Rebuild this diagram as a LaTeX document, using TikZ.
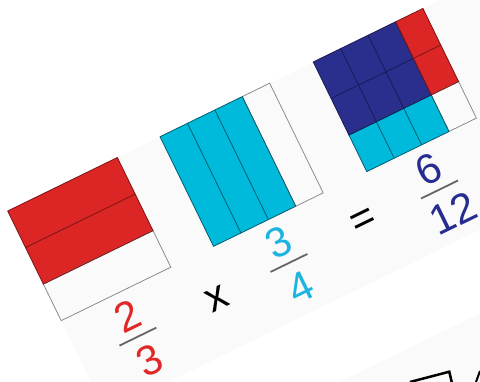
\documentclass[tikz,border=0pt]{standalone}
\usepackage{fontspec}
\setmainfont{Liberation Sans}
\usepackage{tikz}

\definecolor{fracred}{HTML}{DC2626}
\definecolor{fraccyan}{HTML}{00BADC}
\definecolor{fracnavy}{HTML}{2A2E8C}
\definecolor{digred}{HTML}{E12828}
\definecolor{digcyan}{HTML}{1CB4E0}
\definecolor{dignavy}{HTML}{262C90}
\definecolor{panelgray}{HTML}{FAFAFA}

\tikzset{
  digit/.style={inner sep=0pt, font=\fontsize{42}{42}\selectfont},
  fracbar/.style={draw=black!60, line width=1.8pt},
  redline/.style={draw=fracred!55!black, line width=0.8pt},
  cyanline/.style={draw=fraccyan!50!black, line width=0.8pt},
  navyline/.style={draw=fracnavy!60!black, line width=0.8pt},
  grayline/.style={draw=black!45, line width=0.8pt}
}

\begin{document}
\begin{tikzpicture}[x=1pt, y=1pt]
			\useasboundingbox (0,0) rectangle (480,381);
			\clip (0,0) rectangle (480,381);

			\begin{scope}[shift={(7.7,170)}, rotate=26, transform shape]
				% Panels
				\fill[panelgray] (0,0) rectangle (700,-224);
				\fill[panelgray] (0,-299) rectangle (700,-600);

				% Two thirds
				\fill[fracred] (0,0) rectangle (122,-81.33);
				\draw[grayline] (0,-81.33) rectangle (122,-122);
				\draw[redline] (0,-40.67) -- (122,-40.67);
				\draw[redline] (0,0) rectangle (122,-81.33);

				% Three quarters
				\fill[fraccyan] (169.5,0) rectangle (261,-122);
				\draw[grayline] (261,0) rectangle (291.5,-122);
				\foreach \x in {200,230.5}
					\draw[cyanline] (\x,0) -- (\x,-122);
				\draw[cyanline] (169.5,0) rectangle (261,-122);

				% Product
				\fill[fracnavy] (340,0) rectangle (431.5,-81.33);
				\fill[fracred] (431.5,0) rectangle (462,-81.33);
				\fill[fraccyan] (340,-81.33) rectangle (431.5,-122);
				\draw[grayline] (431.5,-81.33) rectangle (462,-122);
				\foreach \x in {370.5,401}
					\draw[navyline] (\x,0) -- (\x,-81.33);
				\draw[navyline] (340,-40.67) -- (431.5,-40.67);
				\foreach \x in {370.5,401}
					\draw[cyanline] (\x,-81.33) -- (\x,-122);
				\draw[redline] (431.5,-40.67) -- (462,-40.67);
				\draw[cyanline] (340,-81.33) rectangle (431.5,-122);
				\draw[navyline] (340,0) rectangle (431.5,-81.33);
				\draw[redline] (431.5,0) rectangle (462,-81.33);

				% Fractions
				\node[digit, text=digred] (numa) at (62,-147) {2};
				\node[digit, text=digred] (dena) at (62,-197) {3};
				\draw[fracbar] (41.5,-170) -- (82.5,-170);

				\node[digit, text=digcyan] (numb) at (230,-147) {3};
				\node[digit, text=digcyan] (denb) at (230,-197) {4};
				\draw[fracbar] (209.5,-170) -- (250.5,-170);

				\node[digit, text=dignavy] (numc) at (397,-147) {6};
				\node[digit, text=dignavy] (denc) at (399,-197) {12};
				\draw[fracbar] (377,-170) -- (418,-170);

				% Signs
				\node[digit] (times) at (149,-171) {x};
				\node[digit] (equals) at (316,-166) {=};
			\end{scope}

			% Cut-off shape
			\draw[line width=2.5pt, line join=miter] (410,-1) -- (449.3,9.3) -- (451.7,-1);
			\draw[line width=2pt] (480,10) -- (476,-1);
		\end{tikzpicture}
\end{document}
